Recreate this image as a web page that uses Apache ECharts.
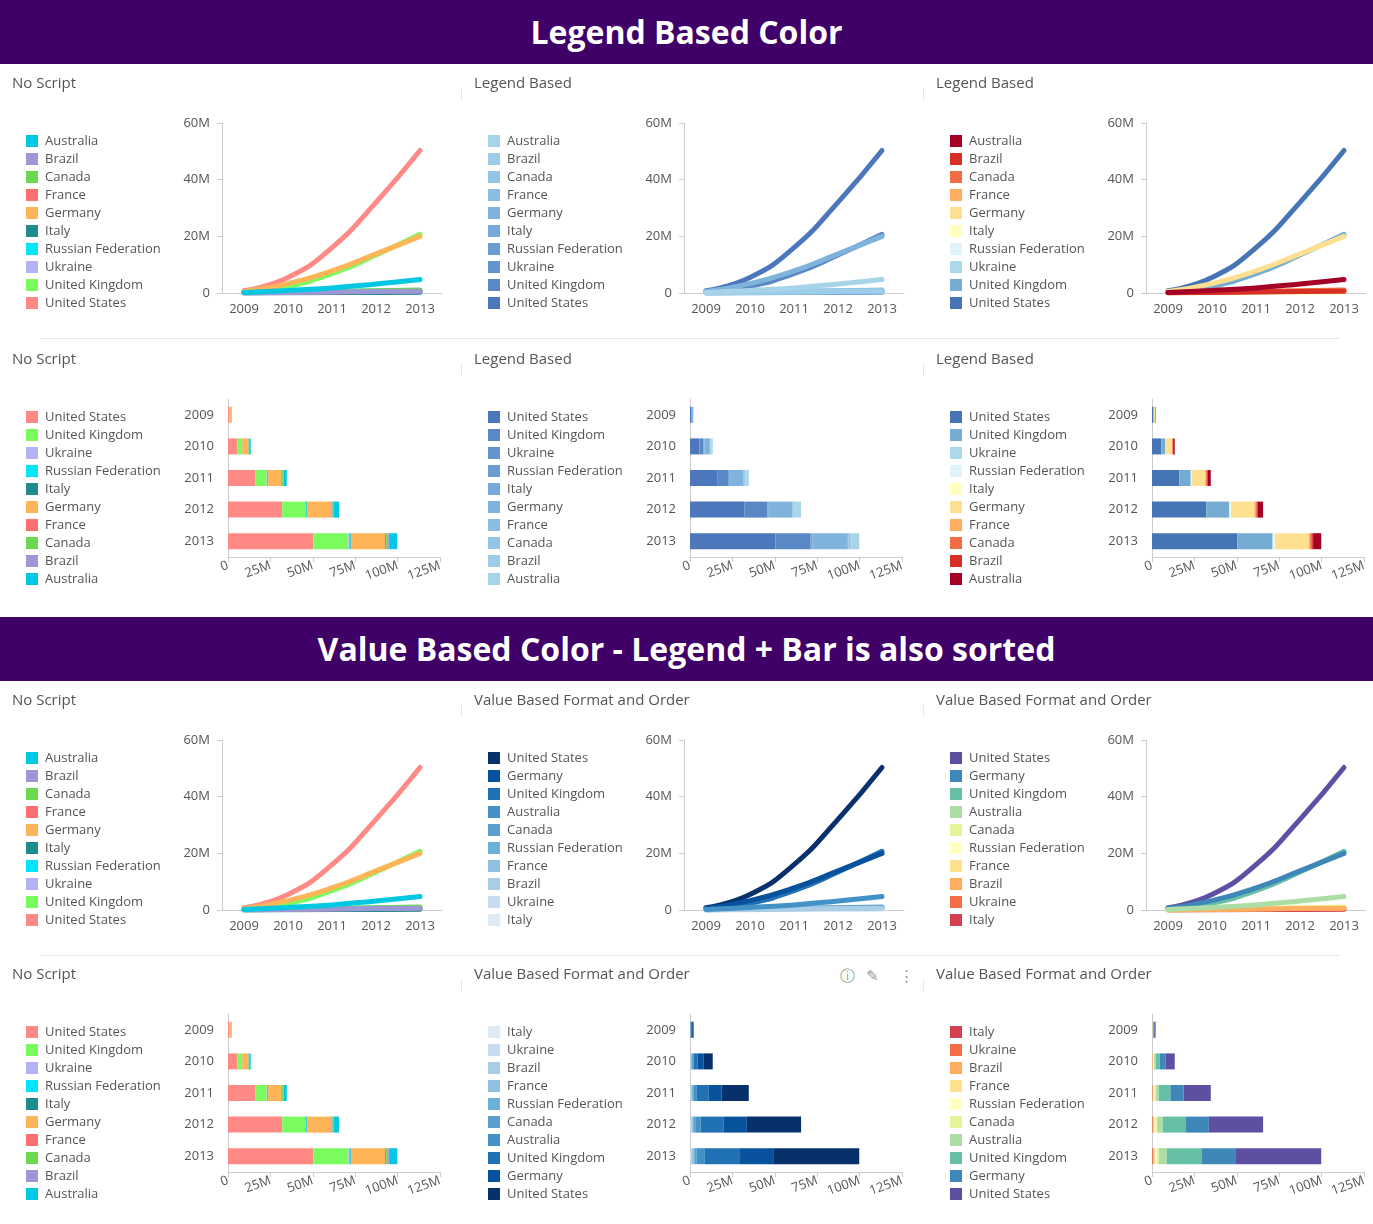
<!DOCTYPE html>
<html>
<head>
<meta charset="utf-8">
<script src="https://cdn.jsdelivr.net/npm/echarts@6/dist/echarts.min.js"></script>
<style>
  body { margin: 0; background: #fff; font-family: "Open Sans", sans-serif; }
  #page { position: relative; width: 1373px; height: 1224px; overflow: hidden; }
  .hdr { position: absolute; left: 0; width: 1373px; height: 64px; background: #3f0068; color: #fff;
         font-weight: bold; font-size: 32px; text-align: center; line-height: 64px; }
  .pan { position: absolute; width: 462px; }
  .sep { position: absolute; height: 1px; background: #e6e6e6; }
  .vsep { position: absolute; width: 1px; height: 12px; background: #e6e6e6; }
  .icon { position: absolute; color: #999; font-size: 15px; }
</style>
</head>
<body>
<div id="page">
  <div class="hdr" style="top:0">Legend Based Color</div>
  <div class="hdr" style="top:617px">Value Based Color - Legend + Bar is also sorted</div>
  <div class="icon" style="left:840px;top:965px">ⓘ</div>
  <div class="icon" style="left:866px;top:965px">✎</div>
  <div class="icon" style="left:899px;top:965px">⋮</div>
</div>
<script>
// values in millions, years 2009-2013
const years = ["2009", "2010", "2011", "2012", "2013"];
const countries = ["Australia", "Brazil", "Canada", "France", "Germany", "Italy",
  "Russian Federation", "Ukraine", "United Kingdom", "United States"];
const australia = [0.2, 0.9, 1.8, 3.2, 4.8];
const brazil = [0.05, 0.2, 0.35, 0.5, 0.6];
const canada = [0.1, 0.35, 0.6, 0.8, 1.1];
const france = [0.05, 0.25, 0.45, 0.6, 0.75];
const germany = [0.5, 3.3, 7.8, 13.8, 20.0];
const italy = [0.02, 0.08, 0.15, 0.2, 0.25];
const russia = [0.08, 0.3, 0.5, 0.7, 0.9];
const ukraine = [0.03, 0.12, 0.2, 0.3, 0.4];
const uk = [0.3, 2.4, 6.8, 13.4, 20.7];
const us = [0.8, 5.5, 16.0, 32.0, 50.3];
const values = {
  "Australia": australia, "Brazil": brazil, "Canada": canada, "France": france,
  "Germany": germany, "Italy": italy, "Russian Federation": russia, "Ukraine": ukraine,
  "United Kingdom": uk, "United States": us
};
const valueOrder = ["United States", "Germany", "United Kingdom", "Australia", "Canada",
  "Russian Federation", "France", "Brazil", "Ukraine", "Italy"];

// palettes
const noScript = {
  "Australia": "#00c8e3", "Brazil": "#9c98d6", "Canada": "#6bd84f", "France": "#ff6f6f",
  "Germany": "#fdb557", "Italy": "#1e8a8a", "Russian Federation": "#00e6ff", "Ukraine": "#b2b2f5",
  "United Kingdom": "#7bfc5e", "United States": "#ff8a85"
};
const legendBlues = {
  "Australia": "#a8d4ea", "Brazil": "#9dcde8", "Canada": "#94c5e4", "France": "#8abde1",
  "Germany": "#80b3dc", "Italy": "#76a9d7", "Russian Federation": "#6c9ed2", "Ukraine": "#6393cc",
  "United Kingdom": "#5a88c5", "United States": "#4d77bc"
};
const legendRdBu = {
  "Australia": "#a50026", "Brazil": "#d73027", "Canada": "#f46d43", "France": "#fdae61",
  "Germany": "#fee090", "Italy": "#ffffbf", "Russian Federation": "#e0f3f8", "Ukraine": "#abd9e9",
  "United Kingdom": "#74add1", "United States": "#4575b4"
};
const valueBlues = {
  "United States": "#08306b", "Germany": "#08519c", "United Kingdom": "#2171b5",
  "Australia": "#4292c6", "Canada": "#5a9fd0", "Russian Federation": "#6baed6",
  "France": "#8fc0e0", "Brazil": "#a9cee6", "Ukraine": "#c6dbef", "Italy": "#deebf7"
};
const valueSpectral = {
  "United States": "#5e4fa2", "Germany": "#3f87b8", "United Kingdom": "#66c0a6",
  "Australia": "#abdda4", "Canada": "#e6f598", "Russian Federation": "#ffffbf",
  "France": "#fee08b", "Brazil": "#fdae61", "Ukraine": "#f46d43", "Italy": "#d53e4f"
};

const page = document.getElementById("page");
const colX = [0, 462, 924];
const txt = { fontFamily: "Open Sans", color: "#555", fontSize: 13 };

function panel(col, top, h) {
  const d = document.createElement("div");
  d.className = "pan";
  d.style.left = colX[col] + "px";
  d.style.top = top + "px";
  d.style.height = h + "px";
  page.appendChild(d);
  return echarts.init(d);
}

function legendOpt(order) {
  return {
    orient: "vertical", left: 21, top: 65, itemWidth: 12, itemHeight: 12, itemGap: 4,
    icon: "rect", data: order, inactiveColor: "#ccc",
    textStyle: Object.assign({ lineHeight: 14, padding: [0, 0, 0, 2] }, txt)
  };
}

const titleStyle = { fontFamily: "Open Sans", fontSize: 15, fontWeight: "normal", color: "#555" };

function lineChart(col, top, title, order, colors) {
  const c = panel(col, top, 274);
  c.setOption({
    animation: false,
    title: { text: title, left: 7, top: 7, textStyle: titleStyle },
    legend: legendOpt(order),
    grid: { left: 222, right: 20, top: 59, height: 170 },
    xAxis: {
      type: "category", data: years,
      axisLine: { lineStyle: { color: "#ccc" } }, axisTick: { lineStyle: { color: "#ccc" }, alignWithLabel: true },
      axisLabel: Object.assign({ margin: 10 }, txt)
    },
    yAxis: {
      type: "value", min: 0, max: 60, interval: 20,
      splitLine: { show: false },
      axisLine: { show: true, lineStyle: { color: "#ccc" } }, axisTick: { show: true, lineStyle: { color: "#ccc" } },
      axisLabel: Object.assign({ formatter: v => v === 0 ? "0" : v + "M", margin: 12 }, txt)
    },
    series: countries.slice().reverse().map(n => ({
      name: n, type: "line", smooth: 0.5, symbol: "circle", symbolSize: 5, showSymbol: false,
      data: values[n], color: colors[n], lineStyle: { width: 5, cap: "round" }
    }))
  });
}

function barChart(col, top, title, order, colors) {
  const c = panel(col, top, 272);
  c.setOption({
    animation: false,
    title: { text: title, left: 7, top: 7, textStyle: titleStyle },
    legend: legendOpt(order),
    grid: { left: 228, right: 22, top: 59, height: 158 },
    yAxis: {
      type: "category", data: years, inverse: true,
      axisLine: { lineStyle: { color: "#ccc" } }, axisTick: { lineStyle: { color: "#ccc" }, alignWithLabel: true },
      axisLabel: Object.assign({ margin: 14 }, txt)
    },
    xAxis: {
      type: "value", min: 0, max: 125, interval: 25, splitLine: { show: false },
      axisLine: { show: true, lineStyle: { color: "#ccc" } }, axisTick: { show: true, lineStyle: { color: "#ccc" } },
      axisLabel: Object.assign({ formatter: v => v === 0 ? "0" : v + "M", rotate: 20, margin: 8 }, txt)
    },
    series: order.map(n => ({
      name: n, type: "bar", stack: "all", barWidth: 16,
      data: values[n], color: colors[n]
    }))
  });
}

const alpha = countries;
const alphaRev = countries.slice().reverse();
const valueRev = valueOrder.slice().reverse();

lineChart(0, 64, "No Script", alpha, noScript);
lineChart(1, 64, "Legend Based", alpha, legendBlues);
lineChart(2, 64, "Legend Based", alpha, legendRdBu);
barChart(0, 340, "No Script", alphaRev, noScript);
barChart(1, 340, "Legend Based", alphaRev, legendBlues);
barChart(2, 340, "Legend Based", alphaRev, legendRdBu);
lineChart(0, 681, "No Script", alpha, noScript);
lineChart(1, 681, "Value Based Format and Order", valueOrder, valueBlues);
lineChart(2, 681, "Value Based Format and Order", valueOrder, valueSpectral);
barChart(0, 955, "No Script", alphaRev, noScript);
barChart(1, 955, "Value Based Format and Order", valueRev, valueBlues);
barChart(2, 955, "Value Based Format and Order", valueRev, valueSpectral);

// separators
[338, 955].forEach(y => {
  const s = document.createElement("div");
  s.className = "sep"; s.style.top = y + "px"; s.style.left = "40px"; s.style.width = "1300px";
  page.appendChild(s);
});
[64, 340, 681, 955].forEach(y => [461, 923].forEach(x => {
  const v = document.createElement("div");
  v.className = "vsep"; v.style.top = (y + 24) + "px"; v.style.left = x + "px";
  page.appendChild(v);
}));
</script>
</body>
</html>
